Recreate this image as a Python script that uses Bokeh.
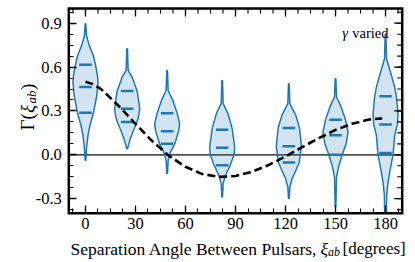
import numpy as np
from bokeh.plotting import figure
from bokeh.models import ColumnDataSource, FixedTicker, Label, PrintfTickFormatter
from bokeh.embed import file_html
from bokeh.resources import INLINE

# ---- data ----
positions = [0, 25, 49, 82, 122, 150, 180]

v1_y = [-0.038, 0.042, 0.133, 0.201, 0.288, 0.406, 0.497, 0.543, 0.616, 0.679, 0.747, 0.816, 0.896]
v1_w = [0.2, 0.6, 1.5, 2.7, 4.8, 6.8, 7.5, 7.2, 6.0, 4.7, 2.3, 0.6, 0.2]
v2_y = [0.042, 0.099, 0.156, 0.224, 0.270, 0.315, 0.361, 0.436, 0.531, 0.577, 0.650, 0.725]
v2_w = [0.2, 1.6, 3.4, 5.9, 7.0, 7.5, 7.0, 6.0, 3.0, 0.6, 0.4, 0.2]
v3_y = [-0.128, -0.038, 0.019, 0.076, 0.167, 0.213, 0.285, 0.372, 0.440, 0.510, 0.577]
v3_w = [0.2, 0.6, 2.0, 4.6, 7.0, 7.5, 6.0, 3.4, 0.6, 0.4, 0.2]
v4_y = [-0.288, -0.197, -0.140, -0.072, 0.0, 0.053, 0.179, 0.281, 0.350, 0.430, 0.509]
v4_w = [0.2, 0.6, 2.0, 4.8, 7.1, 7.5, 6.0, 3.5, 0.6, 0.4, 0.2]
v5_y = [-0.299, -0.220, -0.162, -0.117, -0.053, 0.058, 0.087, 0.183, 0.270, 0.350, 0.420, 0.486]
v5_w = [0.2, 0.6, 2.0, 3.8, 6.2, 7.5, 7.3, 6.4, 4.2, 0.6, 0.4, 0.2]
v6_y = [-0.356, -0.250, -0.152, -0.083, 0.0, 0.076, 0.156, 0.240, 0.326, 0.395, 0.460, 0.520]
v6_w = [0.2, 0.4, 0.6, 1.8, 4.0, 6.4, 7.5, 6.0, 3.4, 0.6, 0.4, 0.2]
v7_y = [-0.40, -0.276, -0.186, -0.094, 0.0, 0.133, 0.208, 0.281, 0.401, 0.463, 0.565, 0.657, 0.740, 0.827]
v7_w = [0.5, 0.7, 1.5, 2.9, 4.5, 5.5, 7.1, 7.5, 6.5, 5.5, 3.0, 0.6, 0.4, 0.2]

quartiles = [
    [0.288, 0.463, 0.616],
    [0.224, 0.315, 0.436],
    [0.076, 0.162, 0.285],
    [-0.072, 0.049, 0.172],
    [-0.053, 0.058, 0.183],
    [0.0, 0.133, 0.240],
    [0.012, 0.208, 0.401],
]

hd_x = [0, 5, 10, 20, 30, 40, 50, 60, 70, 80, 90, 100, 110, 120, 130, 140, 150, 160, 170, 178]
hd_y = [0.500, 0.482, 0.443, 0.334, 0.212, 0.094, -0.006, -0.082, -0.131, -0.151, -0.145,
        -0.116, -0.069, -0.011, 0.052, 0.114, 0.170, 0.213, 0.241, 0.249]

x_ticks = [0, 30, 60, 90, 120, 150, 180]
y_ticks = [-0.3, 0.0, 0.3, 0.6, 0.9]
X_LO, X_HI = -10, 190
Y_LO, Y_HI = -0.4, 1.0

# ---- layout: the frame covers the whole canvas, the axes box is placed inside ----
W, H = 415, 262
BOX_L, BOX_R, BOX_T, BOX_B = 68.3, 401.7, 8.1, 212.8   # pixel position of the axes box
sx = (BOX_R - BOX_L) / (X_HI - X_LO)
sy = (BOX_B - BOX_T) / (Y_HI - Y_LO)
x_start = X_LO - BOX_L / sx
x_end = x_start + W / sx
y_end = Y_HI + BOX_T / sy
y_start = y_end - H / sy

def px2x(px):
    return x_start + px / sx

def py2y(py):
    return y_end - py / sy

C0 = "#1f77b4"
FONT = "Liberation Serif"
HALF_LINE = 3.75  # half length of quartile lines (deg)
MAJ, MIN = 8, 5    # tick lengths in px

profiles = [(v1_y, v1_w), (v2_y, v2_w), (v3_y, v3_w), (v4_y, v4_w),
            (v5_y, v5_w), (v6_y, v6_w), (v7_y, v7_w)]

xs, ys = [], []
for pos, (py_, pw) in zip(positions, profiles):
    xs.append([pos + w for w in pw] + [pos - w for w in reversed(pw)])
    ys.append(list(py_) + list(reversed(py_)))
violin_src = ColumnDataSource(dict(xs=xs, ys=ys))

qx0, qx1, qy = [], [], []
for pos, qs in zip(positions, quartiles):
    for q in qs:
        qx0.append(pos - HALF_LINE)
        qx1.append(pos + HALF_LINE)
        qy.append(q)
q_src = ColumnDataSource(dict(x0=qx0, x1=qx1, y=qy))

p = figure(width=W, height=H, x_range=(x_start, x_end), y_range=(y_start, y_end),
           output_backend="svg", toolbar_location=None,
           min_border_left=0, min_border_right=0, min_border_top=0, min_border_bottom=0)
p.xgrid.visible = False
p.ygrid.visible = False
p.outline_line_color = None
p.background_fill_color = "white"
p.border_fill_color = "white"

x_minor = [float(v) for v in np.arange(-7.5, 190, 7.5)]
y_minor = [float(v) for v in np.round(np.arange(-0.375, 1.0, 0.075), 3)]

def style_axis(ax, ticks, minor):
    ax.ticker = FixedTicker(ticks=ticks, minor_ticks=minor)
    ax.axis_line_color = None
    ax.major_tick_in = MAJ
    ax.major_tick_out = 0
    ax.minor_tick_in = MIN
    ax.minor_tick_out = 0
    ax.major_tick_line_width = 1.3
    ax.minor_tick_line_width = 1.1
    ax.major_tick_line_color = "black"
    ax.minor_tick_line_color = "black"
    ax.major_label_text_font = FONT
    ax.major_label_text_font_size = "16.5px"
    ax.major_label_text_color = "black"

xa = p.xaxis[0]
style_axis(xa, x_ticks, x_minor)
xa.fixed_location = Y_LO
xa.bounds = (X_LO, X_HI)
xa.major_label_standoff = 5

ya = p.yaxis[0]
style_axis(ya, y_ticks, y_minor)
ya.fixed_location = X_LO
ya.bounds = (Y_LO, Y_HI)
ya.major_label_standoff = 7
ya.formatter = PrintfTickFormatter(format="%.1f")

# zero line
p.line([X_LO, X_HI], [0, 0], line_color="#505050", line_width=1.8)

# violins
p.patches("xs", "ys", source=violin_src, fill_color=C0, fill_alpha=0.2,
          line_color=C0, line_width=1.5)
p.segment(x0="x0", y0="y", x1="x1", y1="y", source=q_src, line_color=C0, line_width=2.5)

# HD curve
p.line(hd_x, hd_y, line_color="black", line_width=2.6, line_dash="8 4")

# axes box
p.quad(left=[X_LO], right=[X_HI], bottom=[Y_LO], top=[Y_HI], fill_color=None,
       line_color="black", line_width=2.5, line_join="miter")

# mirrored ticks on the top and right sides
top_major = dict(x0=x_ticks, x1=x_ticks, y0=[Y_HI] * len(x_ticks), y1=[Y_HI - MAJ / sy] * len(x_ticks))
top_minor = dict(x0=x_minor, x1=x_minor, y0=[Y_HI] * len(x_minor), y1=[Y_HI - MIN / sy] * len(x_minor))
right_major = dict(x0=[X_HI] * len(y_ticks), x1=[X_HI - MAJ / sx] * len(y_ticks), y0=y_ticks, y1=y_ticks)
right_minor = dict(x0=[X_HI] * len(y_minor), x1=[X_HI - MIN / sx] * len(y_minor), y0=y_minor, y1=y_minor)
for d, lw in ((top_major, 1.3), (top_minor, 1.1), (right_major, 1.3), (right_minor, 1.1)):
    p.segment(x0="x0", y0="y0", x1="x1", y1="y1", source=ColumnDataSource(d),
              line_color="black", line_width=lw)

def label(px, py, text, size="17px", style="normal", align="left", angle=0.0):
    p.add_layout(Label(x=px2x(px), y=py2y(py), text=text, text_font=FONT, text_font_size=size,
                       text_font_style=style, text_align=align, text_baseline="alphabetic",
                       text_color="black", angle=angle))

# annotation
label(388, 32.3, "varied", size="14.5px", align="right")
label(347.5, 32.3, "γ", size="14.5px", style="italic", align="right")

# x axis label pieces
label(70, 248.3, "Separation Angle Between Pulsars,", size="17.5px")
label(320, 248.3, "ξ", size="17.5px", style="italic")
label(327.5, 251.8, "ab", size="12px", style="italic")
label(342, 248.3, "[degrees]", size="17px")

# y axis label pieces (rotated)
ang = np.pi / 2
label(26.7, 130, "Γ(", size="19px", angle=ang)
label(26.7, 112.5, "ξ", size="19px", style="italic", angle=ang)
label(30.5, 103, "ab", size="13px", style="italic", angle=ang)
label(26.7, 89.5, ")", size="19px", angle=ang)

open("out.html", "w").write(file_html(p, INLINE))
